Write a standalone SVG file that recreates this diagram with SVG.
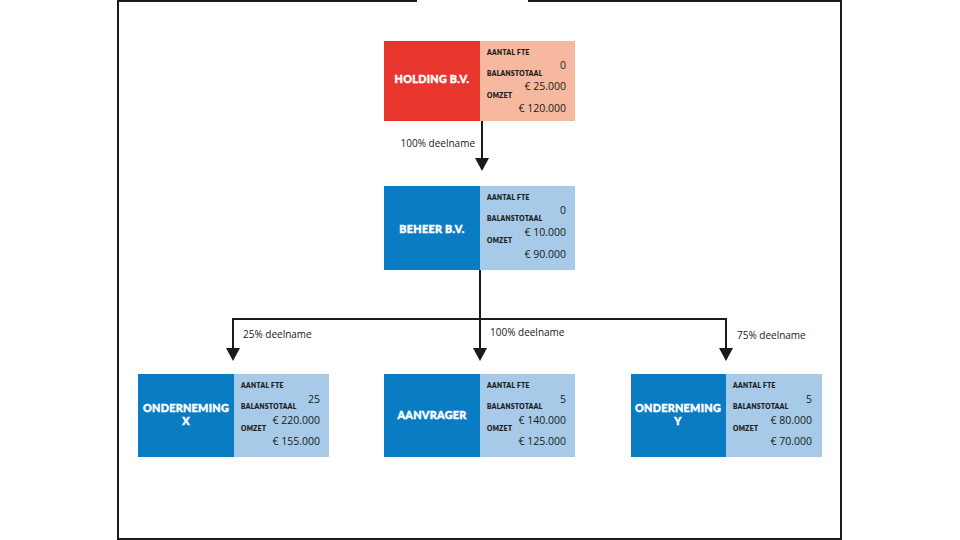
<svg xmlns="http://www.w3.org/2000/svg" width="960" height="540" viewBox="0 0 960 540">
<defs>
<style>
.frame{fill:none;stroke:#1a1a1a;stroke-width:2}
.dark-red{fill:#E8352D}
.light-red{fill:#F6B9A0}
.dark-blue{fill:#0A7CC4}
.light-blue{fill:#A6CAE7}
.title{font-family:Lato,"Open Sans","Liberation Sans",sans-serif;font-weight:900;font-size:10.8px;letter-spacing:0.3px;fill:#ffffff;stroke:#ffffff;stroke-width:0.45px;text-anchor:middle}
.field{font-family:Lato,"Open Sans","Liberation Sans",sans-serif;font-weight:900;font-size:6.5px;letter-spacing:0.45px;fill:#1a1a1a;stroke:#1a1a1a;stroke-width:0.2px}
.val{font-family:"Open Sans","Liberation Sans",sans-serif;font-size:10.5px;fill:#1a1a1a;text-anchor:end}
.lbl{font-family:"Open Sans","Liberation Sans",sans-serif;font-size:10px;fill:#1a1a1a}
.conn{fill:none;stroke:#1a1a1a;stroke-width:2}
.head{fill:#1a1a1a}
</style>
</defs>
<rect width="960" height="540" fill="#ffffff"/>
<path class="frame" d="M417,1 H118 V539 H841 V1 H528"/>

<g id="connectors">
<line class="conn" x1="482" y1="121" x2="482" y2="159"/>
<polygon class="head" points="475,158 489,158 482,171"/>
<line class="conn" x1="480" y1="270" x2="480" y2="349"/>
<polyline class="conn" points="233,349 233,319 726,319 726,349"/>
<polygon class="head" points="226,348 240,348 233,361"/>
<polygon class="head" points="473,348 487,348 480,361"/>
<polygon class="head" points="719,348 733,348 726,361"/>
<text class="lbl" x="475" y="147" text-anchor="end">100% deelname</text>
<text class="lbl" x="243" y="338">25% deelname</text>
<text class="lbl" x="490" y="336">100% deelname</text>
<text class="lbl" x="737" y="339">75% deelname</text>
</g>

<g id="holding">
<rect class="dark-red" x="384" y="41" width="96" height="80"/>
<rect class="light-red" x="480" y="41" width="95" height="80"/>
<text class="title" x="432" y="83">HOLDING B.V.</text>
<text class="field" x="487" y="55">AANTAL FTE</text>
<text class="val" x="566" y="69">0</text>
<text class="field" x="487" y="76">BALANSTOTAAL</text>
<text class="val" x="566" y="90">€ 25.000</text>
<text class="field" x="487" y="98">OMZET</text>
<text class="val" x="566" y="112">€ 120.000</text>
</g>

<g id="beheer">
<rect class="dark-blue" x="384" y="186" width="96" height="84"/>
<rect class="light-blue" x="480" y="186" width="95" height="84"/>
<text class="title" x="432" y="233">BEHEER B.V.</text>
<text class="field" x="487" y="200">AANTAL FTE</text>
<text class="val" x="566" y="214">0</text>
<text class="field" x="487" y="221">BALANSTOTAAL</text>
<text class="val" x="566" y="236">€ 10.000</text>
<text class="field" x="487" y="243">OMZET</text>
<text class="val" x="566" y="258">€ 90.000</text>
</g>

<g id="onderneming-x">
<rect class="dark-blue" x="138" y="374" width="96" height="83"/>
<rect class="light-blue" x="234" y="374" width="95" height="83"/>
<text class="title" x="186" y="412">ONDERNEMING</text>
<text class="title" x="186" y="425">X</text>
<text class="field" x="241" y="388">AANTAL FTE</text>
<text class="val" x="320" y="403">25</text>
<text class="field" x="241" y="409">BALANSTOTAAL</text>
<text class="val" x="320" y="424">€ 220.000</text>
<text class="field" x="241" y="431">OMZET</text>
<text class="val" x="320" y="445">€ 155.000</text>
</g>

<g id="aanvrager">
<rect class="dark-blue" x="384" y="374" width="96" height="83"/>
<rect class="light-blue" x="480" y="374" width="95" height="83"/>
<text class="title" x="432" y="419">AANVRAGER</text>
<text class="field" x="487" y="388">AANTAL FTE</text>
<text class="val" x="566" y="403">5</text>
<text class="field" x="487" y="409">BALANSTOTAAL</text>
<text class="val" x="566" y="424">€ 140.000</text>
<text class="field" x="487" y="431">OMZET</text>
<text class="val" x="566" y="445">€ 125.000</text>
</g>

<g id="onderneming-y">
<rect class="dark-blue" x="631" y="374" width="95" height="83"/>
<rect class="light-blue" x="726" y="374" width="96" height="83"/>
<text class="title" x="678" y="412">ONDERNEMING</text>
<text class="title" x="678" y="425">Y</text>
<text class="field" x="733" y="388">AANTAL FTE</text>
<text class="val" x="812" y="403">5</text>
<text class="field" x="733" y="409">BALANSTOTAAL</text>
<text class="val" x="812" y="424">€ 80.000</text>
<text class="field" x="733" y="431">OMZET</text>
<text class="val" x="812" y="445">€ 70.000</text>
</g>
</svg>
